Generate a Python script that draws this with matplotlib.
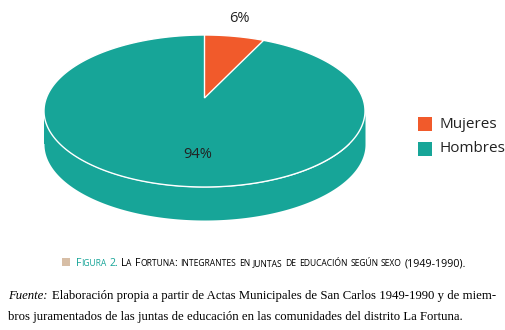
import numpy as np
import matplotlib
matplotlib.use("Agg")
import matplotlib.pyplot as plt
from matplotlib.font_manager import FontProperties

# data
labels = ["Mujeres", "Hombres"]
shares = [6, 94]
pct_labels = ["6%", "94%"]
colors = ["#f15a2b", "#17a598"]

fig_title_num = "Figura 2."
fig_title = "La Fortuna: integrantes en juntas de educación según sexo"
fig_years = "(1949-1990)."
source_lead = "Fuente:"
source_1 = "Elaboración propia a partir de Actas Municipales de San Carlos 1949-1990 y de miem-"
source_2 = "bros juramentados de las juntas de educación en las comunidades del distrito La Fortuna."

SANS = "Open Sans"
SERIF = "Liberation Serif"
CAP = 7.7

fig = plt.figure(figsize=(5.06, 3.30), dpi=100)
ax = fig.add_axes([0, 0, 1, 1])
ax.set_xlim(0, 506)
ax.set_ylim(330, 0)
ax.axis("off")
renderer = fig.canvas.get_renderer()


def advance(s, size, family=SANS, style="normal"):
    # advance width in pixels, measured between two bar markers
    fp = FontProperties(family=family, size=size, style=style)
    w1 = renderer.get_text_width_height_descent("|" + s + "|", fp, False)[0]
    w0 = renderer.get_text_width_height_descent("||", fp, False)[0]
    return w1 - w0


def smallcaps(x, y, text, size, color):
    # fake small caps: lowercase runs drawn uppercase in a smaller size
    space = advance(" ", size)
    for wi, word in enumerate(text.split(" ")):
        if wi > 0:
            x += space
        runs = []
        for ch in word:
            low = ch.islower()
            if runs and runs[-1][1] == low:
                runs[-1][0] += ch
            else:
                runs.append([ch, low])
        for s, low in runs:
            fs = size * 0.8 if low else size
            s = s.upper() if low else s
            ax.text(x, y, s, fontsize=fs, color=color, family=SANS,
                    ha="left", va="baseline")
            x += advance(s, fs)
    return x + space


# 3D-ish pie geometry
cx, cy, rx, ry, depth = 204.5, 111, 160.5, 76, 33
apex_y = 98

# side wall (front half)
t = np.linspace(0, np.pi, 200)
xs = cx + rx * np.cos(t)
ys = cy + ry * np.sin(t)
ax.fill_between(xs, ys, ys + depth, color=colors[1], lw=0)
ax.fill_between([cx - rx, cx + rx], [cy, cy], [cy + depth, cy + depth],
                color=colors[1], lw=0, zorder=0)

# top face
tt = np.linspace(0, 2 * np.pi, 400)
ax.fill(cx + rx * np.cos(tt), cy + ry * np.sin(tt), color=colors[1],
        ec="white", lw=1.0, zorder=2)

# slices on top face, starting at 12 o'clock going clockwise
start = -np.pi / 2
total = sum(shares)
angles = []
for v in shares:
    a1 = start + 2 * np.pi * v / total
    angles.append((start, a1))
    start = a1

a0, a1 = angles[0]
ta = np.linspace(a0, a1, 50)
px = np.concatenate([[cx], cx + rx * np.cos(ta)])
py = np.concatenate([[apex_y], cy + ry * np.sin(ta)])
ax.fill(px, py, color=colors[0], ec="white", lw=1.0, zorder=3)

# percent labels
ax.text(239, 18, pct_labels[0], fontsize=10.5, family=SANS, color="#222222",
        ha="center", va="center")
ax.text(198, 155, pct_labels[1], fontsize=10.5, family=SANS, color="#222222",
        ha="center", va="center")

# legend
for i, (lab, col) in enumerate(zip(labels, colors)):
    yy = 124 + i * 25
    ax.add_patch(plt.Rectangle((418, yy - 7), 14, 14, color=col, lw=0))
    ax.text(440, yy, lab, fontsize=11, family=SANS, color="#222222",
            ha="left", va="center")

# caption
ax.add_patch(plt.Rectangle((62, 258), 8, 8, color="#d7bea6", lw=0))
x = smallcaps(76, 266, fig_title_num, CAP, "#17a598")
x = smallcaps(x, 266, fig_title, CAP, "black")
ax.text(x, 266, fig_years, fontsize=CAP, color="black", family=SANS,
        ha="left", va="baseline")

# source
ax.text(8, 299, source_lead, fontsize=9.2, family=SERIF, style="italic",
        ha="left", va="baseline", color="black")
ax.text(8 + advance(source_lead + " ", 9.2, SERIF, "italic") + 1, 299, source_1,
        fontsize=9.2, family=SERIF, ha="left", va="baseline", color="black")
ax.text(8, 320, source_2, fontsize=9.2, family=SERIF, ha="left",
        va="baseline", color="black")

fig.savefig("out.png", dpi=100)
